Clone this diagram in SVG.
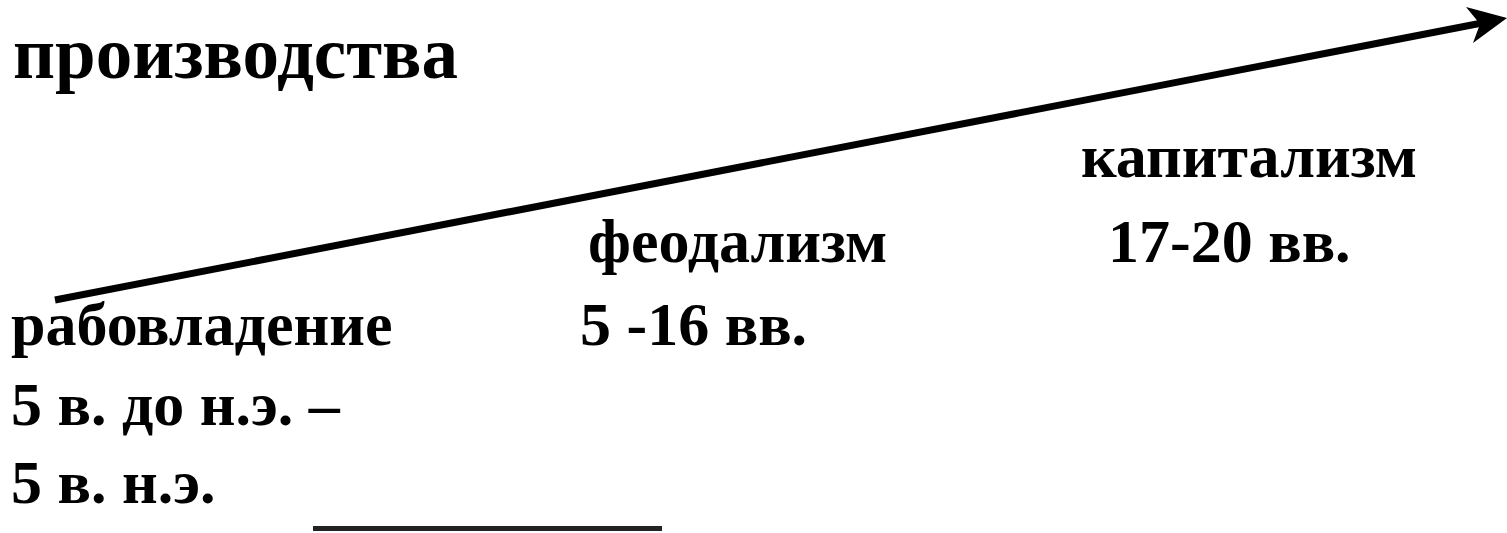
<svg xmlns="http://www.w3.org/2000/svg" width="1507" height="533" viewBox="0 0 1507 533">
<style>
.t{font-family:"Liberation Serif","Times New Roman",serif;font-weight:bold;fill:#000}
.s{font-size:62px}
.h{font-size:73px}
</style>
<rect width="1507" height="533" fill="#fff"/>
<g id="title"><text class="t h" x="13" y="78">производства</text></g>
<g id="connectors">
<line x1="55" y1="300" x2="1482" y2="23" stroke="#000" stroke-width="7"/>
<polygon points="1507,18 1466,7 1480,24 1473,43" fill="#000"/>
</g>
<g id="slavery">
<text class="t s" x="11" y="345">рабовладение</text>
<text class="t s" x="11" y="425">5 в. до н.э. –</text>
<text class="t s" x="11" y="503">5 в. н.э.</text>
</g>
<g id="feudalism">
<text class="t s" x="588" y="262">феодализм</text>
<text class="t s" x="580" y="345">5 -16 вв.</text>
</g>
<g id="capitalism">
<text class="t s" x="1081" y="177">капитализм</text>
<text class="t s" x="1108" y="262">17-20 вв.</text>
</g>
<rect x="313" y="526" width="349" height="5" fill="#222"/>
</svg>
